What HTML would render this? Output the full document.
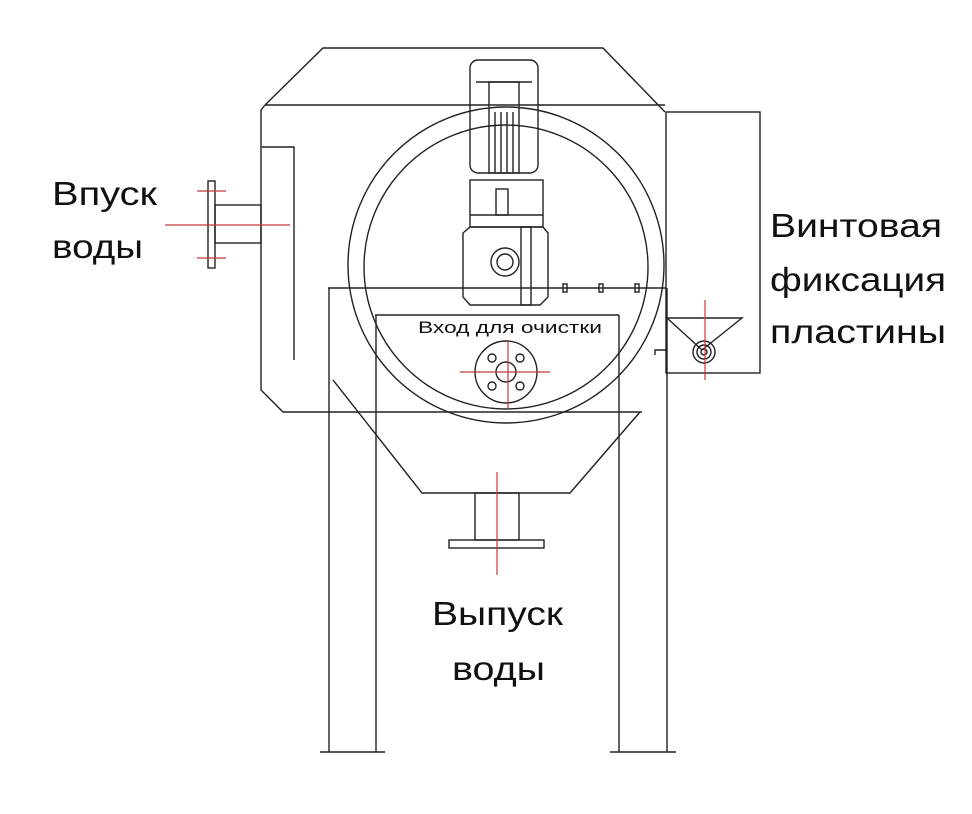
<!DOCTYPE html><html><head><meta charset="utf-8"><style>body{margin:0;background:#fff}svg{display:block}</style></head><body>
<svg width="972" height="814" viewBox="0 0 972 814" xmlns="http://www.w3.org/2000/svg" font-family="Liberation Sans, DejaVu Sans, sans-serif">
<g fill="none" stroke="#222" stroke-width="1.4">
<polyline points="265,105 323,48 603,48 665,112"/>
<polyline points="265,105 261,110 261,390 283,412 642,412"/>
<line x1="265" y1="105" x2="665" y2="105"/>
<polyline points="262,147 294,147 294,360"/>
<rect x="215" y="205" width="46" height="38"/>
<rect x="208" y="181" width="7" height="87"/>
<circle cx="506" cy="265" r="158"/>
<circle cx="506" cy="267" r="142"/>
<line x1="328" y1="288" x2="666" y2="288"/>
<line x1="375" y1="315" x2="619" y2="315"/>
<line x1="329" y1="288" x2="329" y2="752"/><line x1="376" y1="315" x2="376" y2="752"/>
<line x1="619" y1="315" x2="619" y2="752"/><line x1="667" y1="288" x2="667" y2="752"/>
<line x1="320" y1="752" x2="385" y2="752"/><line x1="610" y1="752" x2="676" y2="752"/>
<polyline points="333,380 422,493 570,493 640,412"/>
<rect x="475" y="493" width="44" height="47"/>
<rect x="449" y="540" width="95" height="8"/>
<rect x="470" y="60" width="68" height="113" rx="8"/>
<line x1="476" y1="82" x2="532" y2="82"/>
<rect x="489" y="82" width="30" height="91"/>
<line x1="495" y1="112" x2="495" y2="173"/><line x1="501" y1="112" x2="501" y2="173"/><line x1="507" y1="112" x2="507" y2="173"/><line x1="513" y1="112" x2="513" y2="173"/>
<rect x="470" y="180" width="73" height="47"/>
<line x1="470" y1="215" x2="543" y2="215"/>
<polygon points="463,233 470,227 543,227 548,233 548,297 540,305 470,305 463,297"/>
<circle cx="505" cy="262" r="14"/><circle cx="505" cy="262" r="8"/>
<rect x="521" y="227" width="10" height="78"/>
<rect x="496" y="189" width="12" height="26"/>
<rect x="563" y="284" width="4" height="8"/><rect x="599" y="284" width="4" height="8"/><rect x="635" y="284" width="4" height="8"/>
<circle cx="506" cy="372" r="31"/><circle cx="506" cy="372" r="10"/>
<circle cx="492" cy="358" r="4"/><circle cx="520" cy="358" r="4"/><circle cx="492" cy="386" r="4"/><circle cx="520" cy="386" r="4"/>
<rect x="666" y="112" width="94" height="261"/>
<polygon points="667,318 742,318 702,350"/>
<circle cx="704" cy="352" r="11"/><circle cx="704" cy="352" r="7"/><circle cx="704" cy="352" r="3"/>
<polyline points="655,355 655,350 666,350"/>
</g>
<g stroke="#c0393b" stroke-width="1.2">
<line x1="165" y1="225" x2="290" y2="225"/>
<line x1="197" y1="191" x2="226" y2="191"/><line x1="197" y1="258" x2="226" y2="258"/>
<line x1="460" y1="372" x2="550" y2="372"/><line x1="508" y1="340" x2="508" y2="408"/>
<line x1="497" y1="472" x2="497" y2="575"/>
<line x1="705" y1="300" x2="705" y2="380"/>
</g>
<g fill="#111" lengthAdjust="spacingAndGlyphs">
<text x="418" y="333" font-size="17" textLength="184" lengthAdjust="spacingAndGlyphs">Вход для очистки</text>
<text x="52" y="205" font-size="33" textLength="105" lengthAdjust="spacingAndGlyphs">Впуск</text>
<text x="52" y="258" font-size="33" textLength="91" lengthAdjust="spacingAndGlyphs">воды</text>
<text x="770" y="237" font-size="33" textLength="172" lengthAdjust="spacingAndGlyphs">Винтовая</text>
<text x="770" y="291" font-size="33" textLength="176" lengthAdjust="spacingAndGlyphs">фиксация</text>
<text x="770" y="343" font-size="33" textLength="176" lengthAdjust="spacingAndGlyphs">пластины</text>
<text x="432" y="625" font-size="33" textLength="131" lengthAdjust="spacingAndGlyphs">Выпуск</text>
<text x="452" y="680" font-size="33" textLength="93" lengthAdjust="spacingAndGlyphs">воды</text>
</g>
</svg>
</body></html>
